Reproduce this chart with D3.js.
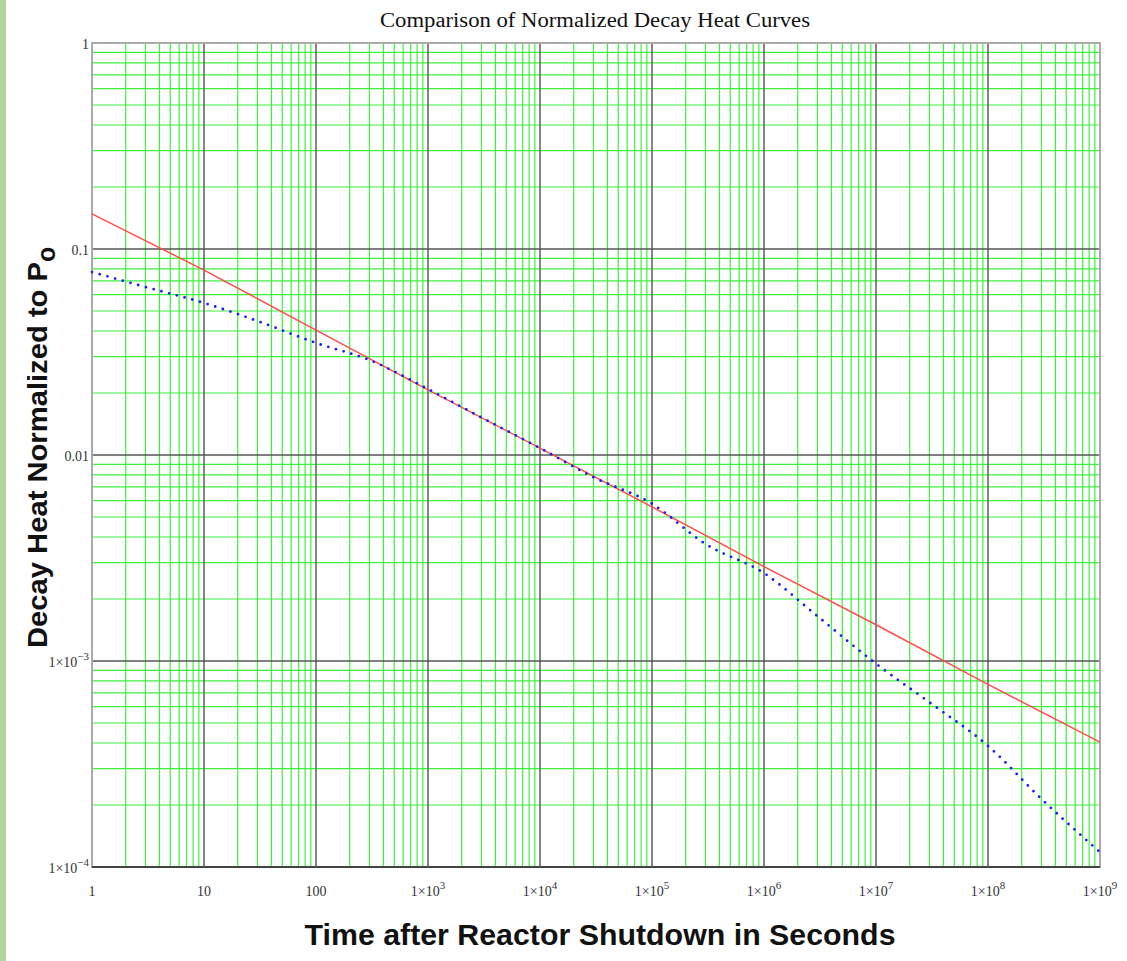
<!DOCTYPE html>
<meta charset="utf-8">
<script src="https://d3js.org/d3.v7.min.js"></script>
<style>
body { margin: 0; background: #fff; }
svg { display: block; }
</style>
<body>
<div id="chart"></div>
<script>

// decay heat curves (time in s, power / Po)
var redTime  = [1, 10, 100, 1e3, 1e4, 1e5, 1e6, 1e7, 1e8, 1e9];
var redHeat  = [0.148, 0.079, 0.0404, 0.0207, 0.0108, 0.0056, 0.00287, 0.0015, 0.00077, 0.000404];

var blueTime = [1, 3, 10, 30, 100, 300, 1e3, 3e3, 1e4, 3e4, 1e5, 3e5, 1e6, 3e6, 1e7, 3e7, 1e8, 3e8, 1e9];
var blueHeat = [0.0773, 0.0654, 0.0547, 0.0447, 0.035, 0.0289, 0.0209, 0.0152, 0.0108, 0.0078, 0.0058,
                0.0037, 0.00267, 0.00165, 0.00097, 0.00063, 0.000387, 0.000214, 0.000118];

var xTicks = [1, 10, 100, 1e3, 1e4, 1e5, 1e6, 1e7, 1e8, 1e9];
var yTicks = [1, 0.1, 0.01, 1e-3, 1e-4];

var W = 1127, H = 961;
var margin = {top: 43, left: 92, right: 27, bottom: 94};
var width = W - margin.left - margin.right,
    height = H - margin.top - margin.bottom;

var svg = d3.select("#chart").append("svg")
    .attr("width", W)
    .attr("height", H);

// green strip on the left edge
svg.append("rect")
    .attr("x", 0).attr("y", 0)
    .attr("width", 6).attr("height", H)
    .attr("fill", "#b3d59d");

var g = svg.append("g")
    .attr("transform", "translate(" + margin.left + "," + margin.top + ")");

var x = d3.scaleLog().domain([1, 1e9]).range([0, width]);
var y = d3.scaleLog().domain([1e-4, 1]).range([height, 0]);

// minor grid (2..9 in every decade)
var minorX = [], minorY = [];
xTicks.slice(0, -1).forEach(function(d) {
  for (var k = 2; k <= 9; k++) minorX.push(d * k);
});
yTicks.slice(1).forEach(function(d) {
  for (var k = 2; k <= 9; k++) minorY.push(d * k);
});

g.selectAll(".minx").data(minorX).enter().append("line")
    .attr("x1", function(d) { return x(d); })
    .attr("x2", function(d) { return x(d); })
    .attr("y1", 0).attr("y2", height)
    .attr("stroke", "#3ef03e")
    .attr("stroke-width", 1.2);

g.selectAll(".miny").data(minorY).enter().append("line")
    .attr("y1", function(d) { return y(d); })
    .attr("y2", function(d) { return y(d); })
    .attr("x1", 0).attr("x2", width)
    .attr("stroke", "#3ef03e")
    .attr("stroke-width", 1.2);

// decade grid
g.selectAll(".majx").data(xTicks.slice(1, -1)).enter().append("line")
    .attr("x1", function(d) { return x(d); })
    .attr("x2", function(d) { return x(d); })
    .attr("y1", 0).attr("y2", height)
    .attr("stroke", "#666")
    .attr("stroke-width", 1.6);

g.selectAll(".majy").data(yTicks.slice(1, -1)).enter().append("line")
    .attr("y1", function(d) { return y(d); })
    .attr("y2", function(d) { return y(d); })
    .attr("x1", 0).attr("x2", width)
    .attr("stroke", "#555")
    .attr("stroke-width", 1.6);

// frame
g.append("rect")
    .attr("width", width).attr("height", height)
    .attr("fill", "none")
    .attr("stroke", "#aaa")
    .attr("stroke-width", 2);
g.append("line")
    .attr("x1", 0).attr("x2", width)
    .attr("y1", height).attr("y2", height)
    .attr("stroke", "#444").attr("stroke-width", 2);

// curves
var redLine = d3.line()
    .x(function(d, i) { return x(redTime[i]); })
    .y(function(d) { return y(d); });

var blueLine = d3.line()
    .x(function(d, i) { return x(blueTime[i]); })
    .y(function(d) { return y(d); })
    .curve(d3.curveMonotoneX);

g.append("path")
    .attr("d", redLine(redHeat))
    .attr("fill", "none")
    .attr("stroke", "#ff4d4d")
    .attr("stroke-width", 1.5);

g.append("path")
    .attr("d", blueLine(blueHeat))
    .attr("fill", "none")
    .attr("stroke", "#1a1aff")
    .attr("stroke-width", 2.8)
    .attr("stroke-linecap", "round")
    .attr("stroke-dasharray", "0,8");

// tick labels
function expOf(d) { return Math.round(Math.log10(d)); }

var xl = g.selectAll(".xl").data(xTicks).enter().append("text")
    .attr("x", function(d) { return x(d); })
    .attr("y", height + 29)
    .attr("text-anchor", "middle")
    .style("font-family", "'Liberation Serif', 'Times New Roman', serif")
    .style("font-size", "14px")
    .attr("fill", "#333");
xl.each(function(d) {
  var t = d3.select(this), e = expOf(d);
  if (e < 3) { t.text(d); return; }
  t.append("tspan").text("1\u00d710");
  t.append("tspan").attr("dy", -7).style("font-size", "11px").text(e);
});

var yl = g.selectAll(".yl").data(yTicks).enter().append("text")
    .attr("x", -3)
    .attr("y", function(d) { return y(d) + 6; })
    .attr("text-anchor", "end")
    .style("font-family", "'Liberation Serif', 'Times New Roman', serif")
    .style("font-size", "14px")
    .attr("fill", "#333");
yl.each(function(d) {
  var t = d3.select(this), e = expOf(d);
  if (e > -3) { t.text(d); return; }
  t.append("tspan").text("1\u00d710");
  t.append("tspan").attr("dy", -7).style("font-size", "11px").text("\u2212" + (-e));
});

// title
svg.append("text")
    .attr("x", 595).attr("y", 27)
    .attr("text-anchor", "middle")
    .attr("textLength", 430)
    .attr("lengthAdjust", "spacingAndGlyphs")
    .style("font-family", "'Liberation Serif', 'Times New Roman', serif")
    .style("font-size", "20px")
    .attr("fill", "#111")
    .text("Comparison of Normalized Decay Heat Curves");

// axis titles
svg.append("text")
    .attr("x", 600).attr("y", 945)
    .attr("text-anchor", "middle")
    .attr("textLength", 591)
    .attr("lengthAdjust", "spacingAndGlyphs")
    .style("font-family", "'Liberation Sans', Arial, sans-serif")
    .style("font-weight", "bold")
    .style("font-size", "30px")
    .attr("fill", "#111")
    .text("Time after Reactor Shutdown in Seconds");

var yt = svg.append("text")
    .attr("transform", "translate(47,648) rotate(-90)")
    .style("font-family", "'Liberation Sans', Arial, sans-serif")
    .style("font-weight", "bold")
    .style("font-size", "28px")
    .attr("fill", "#111");
yt.append("tspan")
    .attr("textLength", 386)
    .attr("lengthAdjust", "spacingAndGlyphs")
    .text("Decay Heat Normalized to P");
yt.append("tspan").attr("dy", 8).attr("font-size", "25px").text("o");

</script>
</body>
